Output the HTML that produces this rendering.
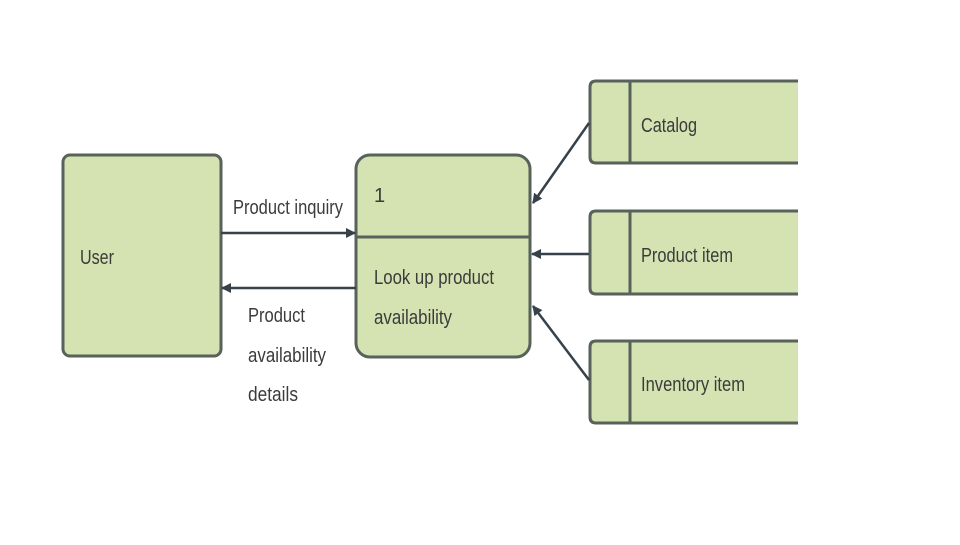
<!DOCTYPE html>
<html><head><meta charset="utf-8"><style>html,body{margin:0;padding:0;background:#fff}</style></head>
<body>
<svg width="960" height="540" viewBox="0 0 960 540" xmlns="http://www.w3.org/2000/svg" font-family="Liberation Sans, sans-serif" font-size="20" fill="#3b3b3b">
<defs><marker id="a" markerWidth="10" markerHeight="10" refX="9" refY="5" orient="auto" markerUnits="userSpaceOnUse"><path d="M0,0 L10,5 L0,10 z" fill="#36414a"/></marker></defs>
<g stroke="#58625a" stroke-width="3" fill="#d4e3b1">
<rect x="63" y="155" width="158" height="201" rx="7"/>
<rect x="356" y="155" width="174" height="202" rx="14"/>
<line x1="356" y1="237" x2="530" y2="237"/>
<path d="M798,81 H596 Q590,81 590,87 V157 Q590,163 596,163 H798"/>
<line x1="630" y1="81" x2="630" y2="163"/>
<path d="M798,211 H596 Q590,211 590,217 V288 Q590,294 596,294 H798"/>
<line x1="630" y1="211" x2="630" y2="294"/>
<path d="M798,341 H596 Q590,341 590,347 V417 Q590,423 596,423 H798"/>
<line x1="630" y1="341" x2="630" y2="423"/>
</g>
<g stroke="#36414a" stroke-width="2.5" fill="none" marker-end="url(#a)">
<line x1="221" y1="233" x2="355" y2="233"/>
<line x1="356" y1="288" x2="222" y2="288"/>
<line x1="589" y1="123" x2="533" y2="203"/>
<line x1="589" y1="254" x2="532" y2="254"/>
<line x1="589" y1="380" x2="533" y2="306"/>
</g>
<text x="80" y="264" textLength="34" lengthAdjust="spacingAndGlyphs">User</text>
<text x="233" y="214" textLength="110" lengthAdjust="spacingAndGlyphs">Product inquiry</text>
<text x="248" y="322" textLength="57" lengthAdjust="spacingAndGlyphs">Product</text>
<text x="248" y="362" textLength="78" lengthAdjust="spacingAndGlyphs">availability</text>
<text x="248" y="401" textLength="50" lengthAdjust="spacingAndGlyphs">details</text>
<text x="374" y="202">1</text>
<text x="374" y="284" textLength="120" lengthAdjust="spacingAndGlyphs">Look up product</text>
<text x="374" y="324" textLength="78" lengthAdjust="spacingAndGlyphs">availability</text>
<text x="641" y="132" textLength="56" lengthAdjust="spacingAndGlyphs">Catalog</text>
<text x="641" y="262" textLength="92" lengthAdjust="spacingAndGlyphs">Product item</text>
<text x="641" y="391" textLength="104" lengthAdjust="spacingAndGlyphs">Inventory item</text>
</svg>
</body></html>
